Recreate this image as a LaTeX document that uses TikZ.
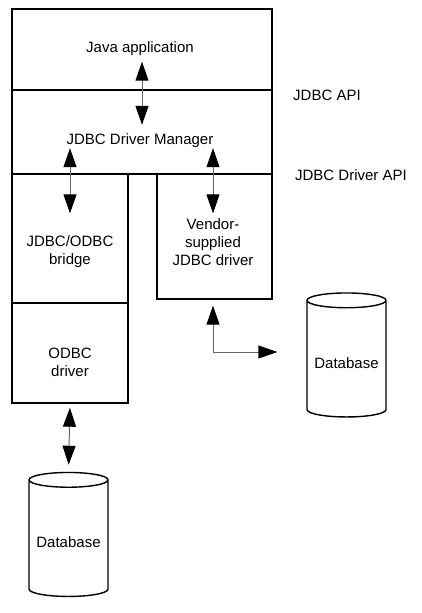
\documentclass[tikz,border=0pt]{standalone}
\usepackage{fontspec}
\setmainfont{Liberation Sans}
\usetikzlibrary{shapes.geometric, arrows.meta, positioning}

\begin{document}
\begin{tikzpicture}[
    x=1pt, y=-1pt,
    every node/.style={font=\fontsize{15}{18}\selectfont},
    box/.style={rectangle, draw, line width=1.4pt, inner sep=0pt},
    txt/.style={align=center, inner sep=3pt},
    db/.style={cylinder, shape border rotate=90, aspect=0.23, draw, line width=1.4pt, minimum width=79pt, minimum height=124pt, inner sep=0pt, text height=18.5pt},
    biarrow/.style={{Triangle[length=19pt, width=13pt, color=black]}-{Triangle[length=19pt, width=13pt, color=black]}, draw=black!60, line width=1pt}
]
\useasboundingbox (0,0) rectangle (422,613);

% Layers of the driver stack
\node[box, minimum width=260pt, minimum height=81pt] (appbox) at (142,49.5) {};
\node[box, minimum width=260pt, minimum height=84pt] (mgrbox) at (142,132) {};
\node[box, minimum width=116pt, minimum height=129pt] (bridgebox) at (70,238.5) {};
\node[box, minimum width=116pt, minimum height=100pt] (odbcbox) at (70,353) {};
\node[box, minimum width=115pt, minimum height=125pt] (vendorbox) at (214.5,236.5) {};

% Texts in the layers
\node[txt] (app) at (140,49) {Java application};
\node[txt] (mgr) at (140,141) {JDBC Driver Manager};
\node[txt] (bridge) at (70,252) {JDBC/ODBC\\bridge};
\node[txt] (vendor) at (213,242) {Vendor-\\supplied\\JDBC driver};
\node[txt] (odbc) at (70,362) {ODBC\\driver};

% Interface names
\node[txt] (api) at (327,95) {JDBC API};
\node[txt] (drvapi) at (351,175) {JDBC Driver API};

% Databases
\node[db] (db1) at (346.5,359) {Database};
\node[db] (db2) at (68.5,538.5) {Database};

% Arrows
\draw[biarrow, shorten <=2.5pt, shorten >=6pt] (app.south -| appbox) -- (mgr.north -| appbox);
\draw[biarrow, shorten <=-3pt, shorten >=2pt] (mgr.south -| bridge) -- (vendor.north -| bridge);
\draw[biarrow, shorten <=-3pt, shorten >=2pt] (mgr.south -| vendor) -- (vendor.north);
\draw[biarrow, shorten <=6pt, shorten >=29pt] (vendorbox.south -| vendor) |- ([yshift=7pt]db1.west);
\draw[biarrow, shorten <=4pt, shorten >=7pt] (odbcbox.south) -- (db2.north);

\end{tikzpicture}
\end{document}
